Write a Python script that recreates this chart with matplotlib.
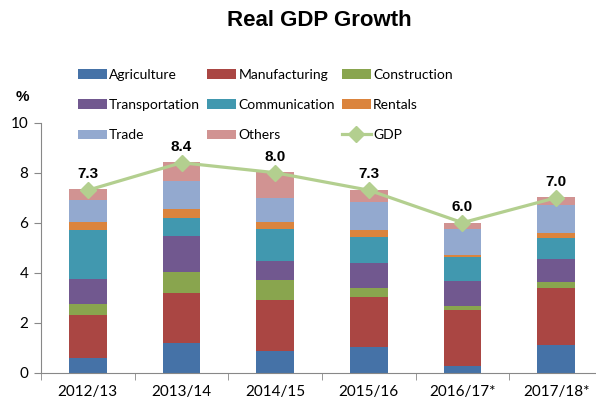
import matplotlib
matplotlib.use('Agg')
import matplotlib.pyplot as plt
import numpy as np

# data
years = ['2012/13', '2013/14', '2014/15', '2015/16', '2016/17*', '2017/18*']
sectors = ['Agriculture', 'Manufacturing', 'Construction', 'Transportation',
           'Communication', 'Rentals', 'Trade', 'Others']
agriculture = [0.59, 1.20, 0.88, 1.01, 0.28, 1.11]
manufacturing = [1.73, 1.99, 2.01, 2.02, 2.23, 2.29]
construction = [0.44, 0.82, 0.82, 0.36, 0.16, 0.24]
transportation = [0.99, 1.46, 0.76, 1.00, 1.01, 0.91]
communication = [1.96, 0.73, 1.29, 1.04, 0.96, 0.82]
rentals = [0.32, 0.35, 0.27, 0.28, 0.07, 0.23]
trade = [0.86, 1.13, 0.96, 1.12, 1.04, 1.09]
others = [0.46, 0.76, 1.02, 0.48, 0.25, 0.34]
gdp = [7.3, 8.4, 8.0, 7.3, 6.0, 7.0]

colors = ['#4572A7', '#AA4643', '#89A54E', '#71588F',
          '#4198AF', '#DB843D', '#93A9CF', '#D19392']
line_col = '#B3CF8F'
tick_font = 'Lato'

series = [agriculture, manufacturing, construction, transportation,
          communication, rentals, trade, others]

fig = plt.figure(figsize=(5.96, 4.03), dpi=100)
ax = fig.add_axes([41/596, 30.3/403, 562/596, 250/403])

x = np.arange(len(years))
bottom = np.zeros(len(years))
bars = []
for name, vals, c in zip(sectors, series, colors):
    b = ax.bar(x, vals, 0.40, bottom=bottom, color=c, label=name, zorder=2)
    bars.append(b)
    bottom += np.array(vals)

line, = ax.plot(x, gdp, color=line_col, lw=2.3, marker='D', ms=8,
                mec=line_col, mfc=line_col, zorder=3, label='GDP')
for xi, v in zip(x, gdp):
    ax.annotate('%.1f' % v, (xi, v), xytext=(0, 6.5), textcoords='offset points',
                ha='center', va='bottom', fontsize=11, fontweight='bold',
                family='Liberation Sans')

ax.set_xlim(-0.5, 5.5)
ax.set_ylim(0, 10)
ax.set_yticks([0, 2, 4, 6, 8, 10])
ax.set_xticks(x)
ax.set_xticklabels(years)
ax.set_xticks(np.arange(-0.5, 5.6, 1), minor=True)
ax.tick_params(axis='x', which='major', length=0, pad=9)
ax.tick_params(axis='x', which='minor', length=5, color='#888888')
ax.tick_params(axis='y', length=5, color='#888888', pad=4)
for lab in ax.get_xticklabels() + ax.get_yticklabels():
    lab.set_fontfamily(tick_font)
    lab.set_fontsize(11)
for s in ['top', 'right']:
    ax.spines[s].set_visible(False)
for s in ['left', 'bottom']:
    ax.spines[s].set_color('#888888')

fig.text(319/596, 1 - 20/403, 'Real GDP Growth', ha='center', va='center',
         fontsize=16, fontweight='bold', family='Liberation Sans')
fig.text(22/596, 1 - 97/403, '%', ha='center', va='center',
         fontsize=11, fontweight='bold', family='Liberation Sans')

# legend in row-major order
hs = bars + [line]
labs = sectors + ['GDP']
order = [0, 3, 6, 1, 4, 7, 2, 5, 8]
leg = fig.legend([hs[i] for i in order], [labs[i] for i in order], ncol=3,
                 loc='upper left', bbox_to_anchor=(71/596, 1 - 62/403),
                 frameon=False, prop={'family': tick_font, 'size': 10},
                 handlelength=2.1, handleheight=0.65, handletextpad=0.15,
                 labelspacing=1.3, columnspacing=0.5, borderpad=0)

fig.savefig('out.png', dpi=100)
